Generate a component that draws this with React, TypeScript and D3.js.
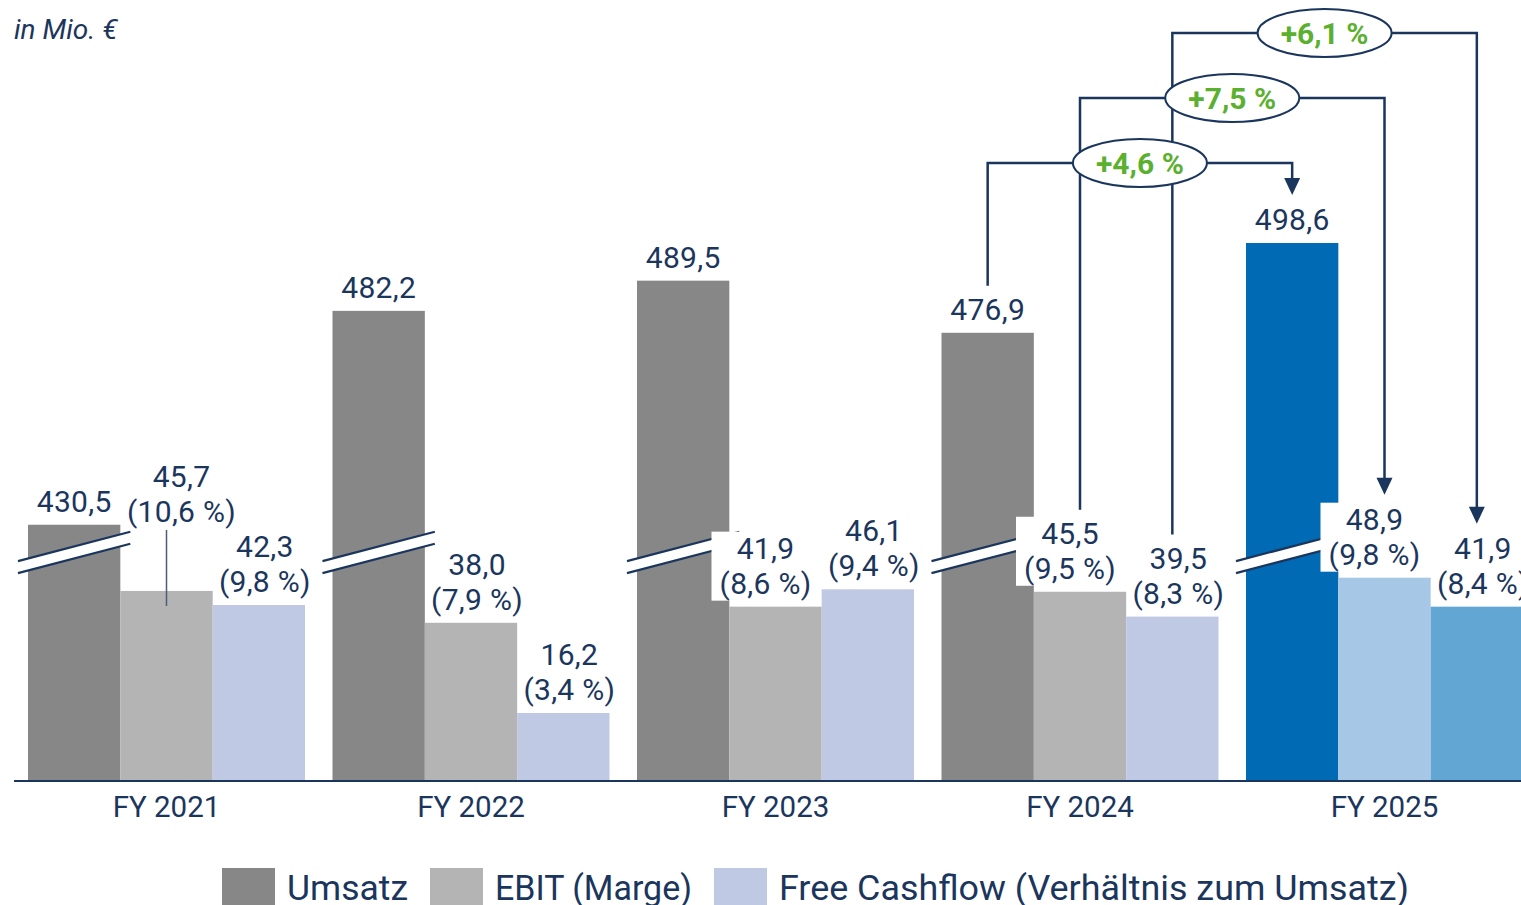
import React from 'react';
import * as d3 from 'd3';

// ---------- data ----------
const years = ['FY 2021', 'FY 2022', 'FY 2023', 'FY 2024', 'FY 2025'];
const umsatz = [430.5, 482.2, 489.5, 476.9, 498.6];
const ebit = [45.7, 38.0, 41.9, 45.5, 48.9];
const ebitMargin = ['10,6 %', '7,9 %', '8,6 %', '9,5 %', '9,8 %'];
const fcf = [42.3, 16.2, 46.1, 39.5, 41.9];
const fcfRatio = ['9,8 %', '3,4 %', '9,4 %', '8,3 %', '8,4 %'];
const seriesNames = ['Umsatz', 'EBIT (Marge)', 'Free Cashflow (Verhältnis zum Umsatz)'];
const growthLabels = ['+4,6 %', '+7,5 %', '+6,1 %'];
const unitLabel = 'in Mio. €';
const umsatzBreakValue = 368.8; // portion of Umsatz hidden by the axis break
const breakLevel = 55; // scale value where the break mark sits

// ---------- style ----------
const W = 1521;
const H = 905;
const NAVY = '#1b365d';
const GREEN = '#5cb030';
const FONT = 'Roboto, "Noto Sans", sans-serif';
const colors = ['#878787', '#b4b4b4', '#bfc9e3'];
const highlightColors = ['#006bb4', '#a6c8e6', '#62a6d4'];
const ebitDx = [15, 6, -10, -10, -10];
const ebitBoxed = [false, false, true, true, true];
const ebitLift = [56, 0, 0, 0, 0];
const legendTextWidths = [121, 197, 630];

const fmt = d3
  .formatLocale({ decimal: ',', thousands: '.', grouping: [3], currency: ['', ' €'] })
  .format('.1f');

export default function App() {
  const baseY = 780;
  const x = d3
    .scaleBand<string>()
    .domain(years)
    .range([28, 1523])
    .paddingInner(27.5 / 304.5)
    .paddingOuter(0);
  const xs = d3.scaleBand<number>().domain([0, 1, 2]).range([0, x.bandwidth()]);
  const y = d3.scaleLinear().domain([0, 100]).range([baseY, baseY - 413.7]);

  const seriesVals = [umsatz.map((v) => v - umsatzBreakValue), ebit, fcf];
  const barX = (i: number, s: number) => (x(years[i]) as number) + (xs(s) as number);
  const barCx = (i: number, s: number) => barX(i, s) + xs.bandwidth() / 2;
  const barTop = (i: number, s: number) => y(seriesVals[s][i]);

  const labelLine1 = (i: number, s: number) => {
    if (s === 0) return barTop(i, 0) - 23;
    const lift = s === 1 ? ebitLift[i] : 0;
    return barTop(i, s) - 58 - lift;
  };

  const bars: JSX.Element[] = [];
  years.forEach((yr, i) => {
    [0, 1, 2].forEach((s) => {
      const col = i === years.length - 1 ? highlightColors[s] : colors[s];
      bars.push(
        <rect
          key={`b${i}${s}`}
          x={barX(i, s)}
          y={barTop(i, s)}
          width={xs.bandwidth()}
          height={baseY - barTop(i, s)}
          fill={col}
        />
      );
    });
  });

  const breaks = years.map((yr, i) => {
    const x0 = barX(i, 0) - 10;
    const x1 = barX(i, 0) + xs.bandwidth() + 10;
    const cx = (x0 + x1) / 2;
    const yc = y(breakLevel);
    const slope = 29 / 111;
    const yAt = (xx: number) => yc - slope * (xx - cx);
    const g = 6;
    return (
      <g key={`br${i}`}>
        <polygon
          points={`${x0},${yAt(x0) - g} ${x1},${yAt(x1) - g} ${x1},${yAt(x1) + g} ${x0},${yAt(x0) + g}`}
          fill="#fff"
        />
        <line x1={x0} y1={yAt(x0) - g} x2={x1} y2={yAt(x1) - g} stroke={NAVY} strokeWidth={2.2} />
        <line x1={x0} y1={yAt(x0) + g} x2={x1} y2={yAt(x1) + g} stroke={NAVY} strokeWidth={2.2} />
      </g>
    );
  });

  const labelStyle = { fontFamily: FONT, fontSize: 30, fill: NAVY, letterSpacing: 0.3 } as const;
  const labels: JSX.Element[] = [];
  years.forEach((yr, i) => {
    labels.push(
      <text key={`lu${i}`} x={barCx(i, 0)} y={labelLine1(i, 0) + 10} textAnchor="middle" style={labelStyle}>
        {fmt(umsatz[i])}
      </text>
    );
    const ex = barCx(i, 1) + ebitDx[i];
    const e1 = labelLine1(i, 1);
    if (ebitBoxed[i]) {
      labels.push(<rect key={`lbx${i}`} x={ex - 54} y={e1 - 17} width={108} height={69} fill="#fff" />);
    }
    if (ebitLift[i] > 0) {
      labels.push(
        <line
          key={`ll${i}`}
          x1={barCx(i, 1)}
          x2={barCx(i, 1)}
          y1={e1 + 53}
          y2={barTop(i, 1) + 15}
          stroke="#4a5d78"
          strokeWidth={1.5}
        />
      );
    }
    labels.push(
      <text key={`le${i}`} x={ex} textAnchor="middle" style={labelStyle}>
        <tspan x={ex} y={e1 + 10}>{fmt(ebit[i])}</tspan>
        <tspan x={ex} y={e1 + 45}>({ebitMargin[i]})</tspan>
      </text>
    );
    const fx = barCx(i, 2) + 6;
    const f1 = labelLine1(i, 2);
    labels.push(
      <text key={`lf${i}`} x={fx} textAnchor="middle" style={labelStyle}>
        <tspan x={fx} y={f1 + 10}>{fmt(fcf[i])}</tspan>
        <tspan x={fx} y={f1 + 45}>({fcfRatio[i]})</tspan>
      </text>
    );
  });

  const from = years.length - 2;
  const to = years.length - 1;
  const brackets = growthLabels.map((lab, s) => {
    const level = 163 - s * 65;
    const xa = barCx(from, s);
    const xb = barCx(to, s);
    const ya = labelLine1(from, s) - 24;
    const tip = labelLine1(to, s) - 25;
    const path = d3.path();
    path.moveTo(xa, ya);
    path.lineTo(xa, level);
    path.lineTo(xb, level);
    path.lineTo(xb, tip - 14);
    const head = d3.path();
    head.moveTo(xb - 8, tip - 17);
    head.lineTo(xb + 8, tip - 17);
    head.lineTo(xb, tip);
    head.closePath();
    return { path: path.toString(), head: head.toString(), cx: (xa + xb) / 2, level, lab };
  });

  let lx = 222;
  const legend = seriesNames.map((name, s) => {
    const sx = lx;
    const tx = sx + 65;
    lx = tx + legendTextWidths[s] + 22;
    return (
      <g key={`lg${s}`}>
        <rect x={sx} y={868} width={53} height={40} fill={colors[s]} />
        <text
          x={tx}
          y={900}
          textLength={legendTextWidths[s]}
          lengthAdjust="spacingAndGlyphs"
          style={{ fontFamily: FONT, fontSize: 35, fill: NAVY }}
        >
          {name}
        </text>
      </g>
    );
  });

  return (
    <svg
      width={W}
      height={H}
      viewBox={`0 0 ${W} ${H}`}
      style={{ position: 'absolute', left: 0, top: 0, background: '#fff' }}
    >
      <text x={14} y={39} style={{ fontFamily: FONT, fontSize: 28, fontStyle: 'italic', fill: NAVY }}>
        {unitLabel}
      </text>
      {bars}
      <line x1={14} x2={W} y1={baseY + 1} y2={baseY + 1} stroke={NAVY} strokeWidth={2} />
      {breaks}
      {labels}
      {brackets.map((b, s) => (
        <g key={`bk${s}`}>
          <path d={b.path} fill="none" stroke={NAVY} strokeWidth={2.5} />
          <path d={b.head} fill={NAVY} />
        </g>
      ))}
      {brackets.map((b, s) => (
        <g key={`el${s}`}>
          <ellipse cx={b.cx} cy={b.level} rx={67} ry={24} fill="#fff" stroke={NAVY} strokeWidth={2} />
          <text
            x={b.cx}
            y={b.level + 10.5}
            textAnchor="middle"
            style={{ fontFamily: FONT, fontSize: 30, fontWeight: 700, fill: GREEN }}
          >
            {b.lab}
          </text>
        </g>
      ))}
      {years.map((yr) => (
        <text
          key={`ax${yr}`}
          x={(x(yr) as number) + x.bandwidth() / 2}
          y={817}
          textAnchor="middle"
          style={{ fontFamily: FONT, fontSize: 29.5, fill: NAVY }}
        >
          {yr}
        </text>
      ))}
      {legend}
    </svg>
  );
}
